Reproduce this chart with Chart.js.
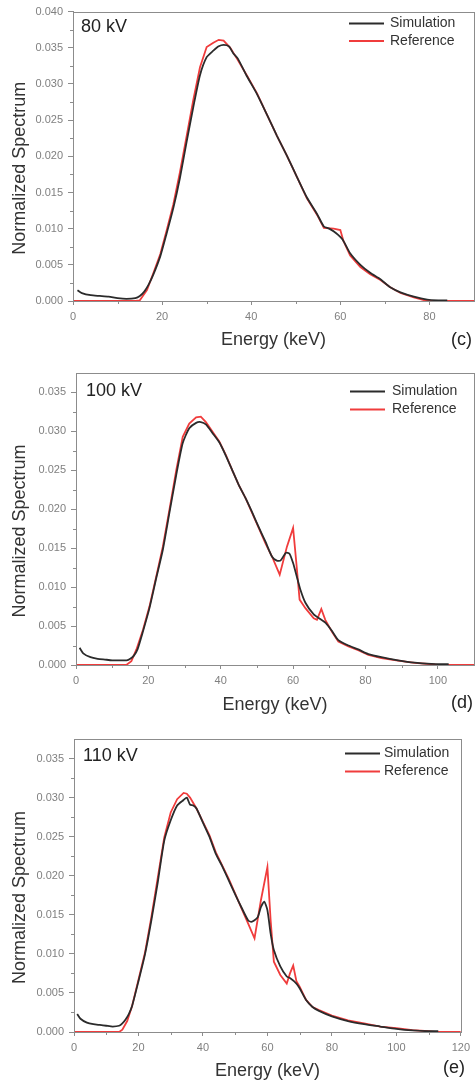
<!DOCTYPE html>
<html>
<head>
<meta charset="utf-8">
<script src="https://cdn.jsdelivr.net/npm/chart.js@4.4.0/dist/chart.umd.min.js"></script>
<style>
    body { margin: 0; background: #fff; width: 475px; height: 1082px; overflow: hidden; position: relative; }
    canvas { position: absolute; left: 0; }
</style>
</head>
<body>
<canvas id="c80" width="475" height="355" style="top:0px"></canvas>
<canvas id="c100" width="475" height="360" style="top:360px"></canvas>
<canvas id="c110" width="475" height="362" style="top:720px"></canvas>
<script>
// 80 kV
var sim80E = [1, 2, 4, 6, 8, 10, 12, 14, 15, 16, 17, 18, 19.6, 21, 22.5, 24, 25.5, 27, 28.5, 30, 31.5, 32.7, 33.8, 35, 36, 37, 39, 41.3, 43.5, 45.8, 48, 50.3, 52.5, 54.8, 56.3, 57.5, 59, 60.5, 62.2, 64.5, 66.7, 69, 71.2, 73.5, 76.5, 79.5, 82, 84];
var sim80V = [0.0015, 0.0011, 0.0008, 0.0007, 0.0006, 0.0004, 0.0003, 0.0004, 0.0007, 0.0013, 0.0023, 0.0036, 0.0062, 0.0093, 0.0128, 0.017, 0.022, 0.0268, 0.0312, 0.0337, 0.0346, 0.0352, 0.0354, 0.0352, 0.0342, 0.0335, 0.0311, 0.0286, 0.0258, 0.0228, 0.0201, 0.0171, 0.0143, 0.012, 0.0103, 0.0100, 0.0094, 0.0085, 0.0066, 0.005, 0.0039, 0.003, 0.0019, 0.0012, 0.0006, 0.0002, 0.0001, 0.0001];
var ref80E = [0, 14, 15, 16.6, 18, 19.6, 21, 22.5, 24, 25.5, 27, 28.5, 30, 31.5, 32.7, 33.8, 35.3, 36.8, 39, 41.3, 43.5, 45.8, 48, 50.3, 52.5, 54.8, 56.3, 58.5, 60, 60.7, 62.2, 64.5, 66.7, 69, 71.2, 73.5, 76.5, 79.5, 90];
var ref80V = [0, 0, 0.0001, 0.0015, 0.0038, 0.0065, 0.0097, 0.0133, 0.0178, 0.0228, 0.0278, 0.0323, 0.0351, 0.0357, 0.0361, 0.036, 0.035, 0.0335, 0.0312, 0.0287, 0.0258, 0.0228, 0.0201, 0.0171, 0.0142, 0.0119, 0.0101, 0.01, 0.0098, 0.0083, 0.0063, 0.0047, 0.0037, 0.0029, 0.0019, 0.0011, 0.0005, 0, 0];

// 100 kV
var sim100E = [1, 2, 4, 6, 8, 10, 12, 14, 15, 16, 17, 18.5, 20.3, 22.2, 24, 25.8, 27.7, 29.5, 31.3, 33.2, 34.5, 35.9, 37.7, 39.6, 41.4, 43.2, 45, 46.9, 48.7, 50.5, 52.4, 54.2, 55.5, 56.5, 58, 59, 60, 61, 62, 63.4, 65.7, 67.8, 69, 70.7, 72.5, 75.3, 78, 80.8, 84.4, 89, 93.6, 98.2, 103];
var sim100V = [0.0022, 0.0015, 0.001, 0.0008, 0.0007, 0.0006, 0.0006, 0.0006, 0.0008, 0.0012, 0.002, 0.0043, 0.0073, 0.0112, 0.0148, 0.0195, 0.0244, 0.0285, 0.0304, 0.0311, 0.0312, 0.0309, 0.0298, 0.0286, 0.0269, 0.025, 0.0231, 0.0214, 0.0196, 0.0177, 0.0158, 0.0139, 0.0134, 0.0134, 0.0144, 0.0143, 0.0131, 0.0114, 0.0097, 0.008, 0.0065, 0.0058, 0.0054, 0.0044, 0.0032, 0.0025, 0.002, 0.0014, 0.001, 0.0006, 0.0003, 0.00015, 0.0001];
var ref100E = [0, 13.9, 15.3, 16.7, 18.5, 20.3, 22.2, 24, 25.8, 27.7, 29.5, 31.3, 33.2, 34.5, 35.9, 37.7, 39.6, 41.4, 43.2, 45, 46.9, 48.7, 50.5, 52.4, 54.2, 56.3, 58.3, 60, 60.9, 61.8, 63.4, 65.7, 66.6, 67.8, 68.9, 70.7, 72.5, 75.3, 78, 80.8, 84.4, 89, 93.6, 98.2, 100, 110];
var ref100V = [0, 0, 0.0005, 0.002, 0.0045, 0.0075, 0.0114, 0.0152, 0.0199, 0.025, 0.0293, 0.031, 0.0318, 0.0319, 0.0312, 0.03, 0.0287, 0.027, 0.025, 0.0231, 0.0214, 0.0195, 0.0176, 0.0156, 0.0139, 0.0116, 0.0152, 0.0176, 0.0131, 0.0084, 0.0073, 0.006, 0.0058, 0.0072, 0.0058, 0.0043, 0.003, 0.0024, 0.0019, 0.0013, 0.0009, 0.00056, 0.00026, 0.0001, 0, 0];

// 110 kV
var sim110E = [1, 2, 4, 6, 8, 10, 12, 14, 15, 16, 17, 18, 20, 22, 24, 26, 28, 30, 32, 34, 35, 36, 37, 38, 40, 42, 44, 46, 48, 50, 52, 54, 55, 56, 57, 58, 59, 60, 61, 62, 64, 66, 67, 69, 70, 72, 74, 76, 80, 85, 90, 95, 100, 105, 110, 113];
var sim110V = [0.0023, 0.0017, 0.0012, 0.001, 0.0009, 0.0008, 0.0007, 0.0008, 0.0011, 0.0016, 0.0023, 0.0033, 0.0065, 0.0099, 0.0143, 0.0192, 0.0245, 0.0271, 0.029, 0.0297, 0.03, 0.0291, 0.029, 0.0286, 0.0268, 0.025, 0.0228, 0.0212, 0.0194, 0.0176, 0.0159, 0.0143, 0.0141, 0.0143, 0.0147, 0.016, 0.0167, 0.0156, 0.0126, 0.0105, 0.0084, 0.0071, 0.0069, 0.0062, 0.0056, 0.0041, 0.0032, 0.0027, 0.002, 0.0014, 0.001, 0.0007, 0.0004, 0.0002, 0.0001, 0.0001];
var ref110E = [0, 14, 15, 16.5, 18, 20, 22, 24, 26, 28, 30, 32, 34, 35, 36, 38, 40, 42, 44, 46, 48, 50, 52, 54, 56, 58, 60, 61, 62, 64, 66, 67, 68, 69, 70, 72, 74, 76, 80, 85, 90, 95, 100, 105, 110, 112, 120];
var ref110V = [0, 0, 0.0003, 0.0014, 0.0033, 0.0067, 0.0101, 0.0147, 0.0198, 0.0249, 0.0281, 0.0298, 0.0306, 0.0305, 0.03, 0.0286, 0.0269, 0.0252, 0.023, 0.0213, 0.0196, 0.0177, 0.0158, 0.0139, 0.012, 0.0169, 0.0211, 0.0143, 0.009, 0.0073, 0.0062, 0.0075, 0.0085, 0.0065, 0.0058, 0.0041, 0.0032, 0.0028, 0.0021, 0.0015, 0.0011, 0.0007, 0.0005, 0.00025, 0.0001, 0, 0];

var seriesNames = ["Simulation", "Reference"];
var axisColor = "#8c8c8c";
var fontFamily = "'Liberation Sans', Arial, sans-serif";

var toPoints = (xs, ys) => xs.map((x, i) => ({ x: x, y: ys[i] }));

// draws the frame, minor ticks, legend and labels on top of the chart
var decor = {
    id: "decor",
    afterDraw(chart, args, o) {
        var ctx = chart.ctx;
        var a = chart.chartArea;
        var xs = chart.scales.x, ys = chart.scales.y;
        ctx.save();

        ctx.strokeStyle = axisColor;
        ctx.lineWidth = 1;
        ctx.strokeRect(Math.round(a.left) + 0.5, Math.round(a.top) + 0.5,
            Math.round(a.right - a.left), Math.round(a.bottom - a.top));

        ctx.beginPath();
        for (var v = 10; v < xs.max; v += 20) {
            var px = Math.round(xs.getPixelForValue(v)) + 0.5;
            ctx.moveTo(px, a.bottom);
            ctx.lineTo(px, a.bottom + 3);
        }
        for (var w = 0.0025; w < ys.max; w += 0.005) {
            var py = Math.round(ys.getPixelForValue(w)) + 0.5;
            ctx.moveTo(a.left, py);
            ctx.lineTo(a.left - 3, py);
        }
        ctx.stroke();

        // legend
        ctx.font = "14px " + fontFamily;
        ctx.textBaseline = "middle";
        ctx.textAlign = "left";
        chart.data.datasets.forEach((ds, i) => {
            var y = o.legY[i];
            ctx.strokeStyle = ds.borderColor;
            ctx.lineWidth = 2.2;
            ctx.beginPath();
            ctx.moveTo(o.legLine, y);
            ctx.lineTo(o.legLine + 35, y);
            ctx.stroke();
            ctx.fillStyle = "#333";
            ctx.fillText(ds.label, o.legText, y);
        });

        // panel voltage and letter
        ctx.fillStyle = "#222";
        ctx.font = "18px " + fontFamily;
        ctx.textBaseline = "alphabetic";
        ctx.fillText(o.kv, o.kvX, o.kvY);
        ctx.textAlign = "right";
        ctx.textBaseline = "middle";
        ctx.fillText(o.letter, o.letterX, o.letterY);

        // y title
        ctx.translate(20, (a.top + a.bottom) / 2 + 12);
        ctx.rotate(-Math.PI / 2);
        ctx.textAlign = "center";
        ctx.fillStyle = "#333";
        ctx.fillText("Normalized Spectrum", 0, 0);

        ctx.restore();
    }
};

function makePanel(id, simE, simV, refE, refV, p) {
    var canvas = document.getElementById(id);
    var H = canvas.height;
    new Chart(canvas, {
        type: "line",
        data: {
            datasets: [{
                label: seriesNames[0],
                data: toPoints(simE, simV),
                borderColor: "#2b2b2b",
                borderWidth: 1.8,
                pointRadius: 0,
                tension: 0.2
            }, {
                label: seriesNames[1],
                data: toPoints(refE, refV),
                borderColor: "#f03c3c",
                borderWidth: 1.8,
                pointRadius: 0,
                tension: 0
            }]
        },
        options: {
            responsive: false,
            animation: false,
            devicePixelRatio: 1,
            layout: { padding: { top: p.top, right: canvas.width - p.right, left: 0, bottom: 0 } },
            plugins: {
                legend: { display: false },
                tooltip: { enabled: false },
                decor: p
            },
            scales: {
                x: {
                    type: "linear",
                    min: 0,
                    max: p.xMax,
                    afterFit: s => { s.height = H - p.bottom; },
                    ticks: { stepSize: 20, includeBounds: false, maxRotation: 0, padding: 5, color: "#808080", font: { size: 11, family: fontFamily } },
                    grid: { drawOnChartArea: false, tickLength: 4, tickColor: axisColor },
                    border: { color: axisColor },
                    title: { display: true, text: "Energy (keV)", color: "#333", font: { size: 18, family: fontFamily }, padding: { top: 0, bottom: p.titlePad } }
                },
                y: {
                    min: 0,
                    max: p.yMax,
                    afterFit: s => { s.width = p.left; },
                    ticks: { stepSize: 0.005, includeBounds: false, padding: 5, color: "#808080", font: { size: 11, family: fontFamily }, callback: v => v.toFixed(3) },
                    grid: { drawOnChartArea: false, tickLength: 5, tickColor: axisColor },
                    border: { color: axisColor }
                }
            }
        },
        plugins: [decor]
    });
}

makePanel("c80", sim80E, sim80V, ref80E, ref80V, {
    left: 73, top: 7, right: 474, bottom: 301, xMax: 90, yMax: 0.04, titlePad: 4,
    kv: "80 kV", kvX: 81, kvY: 32, letter: "(c)", letterX: 472, letterY: 340,
    legLine: 349, legText: 390, legY: [23.5, 41]
});
makePanel("c100", sim100E, sim100V, ref100E, ref100V, {
    left: 76, top: 13, right: 474, bottom: 305, xMax: 110, yMax: 0.0375, titlePad: 4,
    kv: "100 kV", kvX: 86, kvY: 36, letter: "(d)", letterX: 473, letterY: 343,
    legLine: 350, legText: 392, legY: [31.5, 49.5]
});
makePanel("c110", sim110E, sim110V, ref110E, ref110V, {
    left: 74, top: 19, right: 466, bottom: 312, xMax: 120, yMax: 0.0375, titlePad: 0,
    kv: "110 kV", kvX: 83, kvY: 41, letter: "(e)", letterX: 465, letterY: 348,
    legLine: 345, legText: 384, legY: [33.5, 51.5]
});
</script>
</body>
</html>
